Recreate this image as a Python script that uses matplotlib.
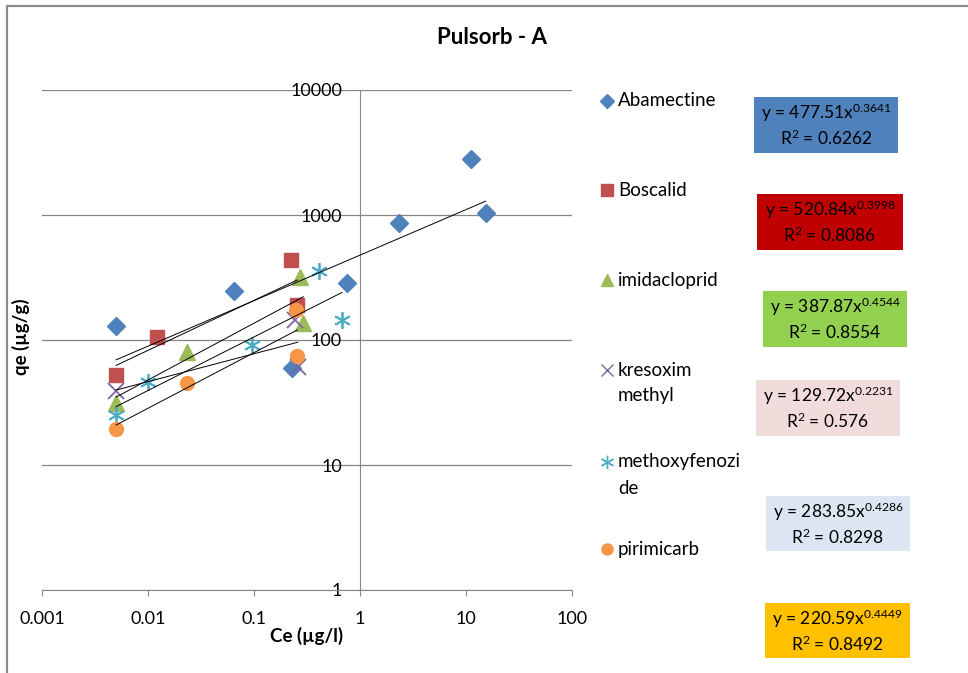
import matplotlib.pyplot as plt
import matplotlib.ticker as mtick
from matplotlib.patches import Rectangle
from matplotlib.lines import Line2D
import numpy as np

plt.rcParams['font.family'] = ['Lato', 'DejaVu Sans']
plt.rcParams['mathtext.fontset'] = 'custom'
plt.rcParams['mathtext.rm'] = 'Lato'
plt.rcParams['mathtext.default'] = 'regular'

# measured points, Ce (ug/l) vs qe (ug/g)
abamectine_x = [0.005, 0.065, 0.23, 0.75, 2.33, 11.1, 15.3]
abamectine_y = [129, 247, 60, 284, 859, 2806, 1043]
boscalid_x = [0.005, 0.0122, 0.225, 0.256]
boscalid_y = [52.5, 105, 437, 190]
imidacloprid_x = [0.005, 0.0232, 0.272, 0.292]
imidacloprid_y = [31.2, 80.7, 321, 138]
kresoxim_x = [0.005, 0.244, 0.258]
kresoxim_y = [39.3, 144.5, 61.2]
methoxy_x = [0.005, 0.01, 0.0964, 0.407, 0.676]
methoxy_y = [25.1, 46.4, 91.2, 359, 144.5]
pirimicarb_x = [0.005, 0.0235, 0.247, 0.256]
pirimicarb_y = [19.3, 45.0, 174, 75]

# power fits y = a * x^b
fit_a = [477.51, 520.84, 387.87, 129.72, 283.85, 220.59]
fit_b = [0.3641, 0.3998, 0.4544, 0.2231, 0.4286, 0.4449]
fit_r2 = ['0.6262', '0.8086', '0.8554', '0.576', '0.8298', '0.8492']

legend_labels = ['Abamectine', 'Boscalid', 'imidacloprid', 'kresoxim\nmethyl',
                 'methoxyfenozi\nde', 'pirimicarb']

series = [(abamectine_x, abamectine_y), (boscalid_x, boscalid_y),
          (imidacloprid_x, imidacloprid_y), (kresoxim_x, kresoxim_y),
          (methoxy_x, methoxy_y), (pirimicarb_x, pirimicarb_y)]

colors = ['#4F81BD', '#C0504D', '#9BBB59', '#8064A2', '#4BACC6', '#F79646']
markers = ['D', 's', '^', 'x', (6, 2, 0), 'o']
msizes = [9.5, 10, 11, 11, 12, 10]
box_colors = ['#4F81BD', '#C00000', '#92D050', '#F2DCDB', '#DCE6F2', '#FFC000']
# box corners in pixels (left, top, right, bottom)
box_px = [(754, 97, 898, 153), (757, 194, 903, 250), (763, 291, 907, 347),
          (756, 380, 900, 436), (766, 496, 910, 551), (765, 603, 910, 658)]

W, H = 968, 673
fig = plt.figure(figsize=(W / 100, H / 100), dpi=100)
ax = fig.add_axes([42 / W, 83 / H, 530 / W, 500 / H])

def fx(px):
    return px / W

def fy(py):
    return 1 - py / H

grey = '#868686'

for i, (x, y) in enumerate(series):
    filled = markers[i] not in ('x', (6, 2, 0))
    ax.plot(x, y, linestyle='none', marker=markers[i], markersize=msizes[i],
            color=colors[i], markeredgewidth=1.0 if filled else 1.3,
            zorder=3, clip_on=False)
    xs = np.logspace(np.log10(min(x)), np.log10(max(x)), 50)
    ax.plot(xs, fit_a[i] * xs ** fit_b[i], color='black', linewidth=0.7, zorder=4)

ax.set_xscale('log')
ax.set_yscale('log')
ax.set_xlim(0.001, 100)
ax.set_ylim(1, 10000)

ax.xaxis.set_major_locator(mtick.LogLocator(base=10, numticks=10))
ax.yaxis.set_major_locator(mtick.LogLocator(base=10, numticks=10))
ax.xaxis.set_minor_locator(mtick.NullLocator())
ax.yaxis.set_minor_locator(mtick.NullLocator())
fmt = mtick.FuncFormatter(lambda v, p: '%g' % v)
ax.xaxis.set_major_formatter(fmt)
ax.yaxis.set_major_formatter(fmt)

ax.spines['top'].set_visible(False)
ax.spines['right'].set_visible(False)
ax.spines['left'].set_position(('data', 1))
ax.spines['left'].set_color(grey)
ax.spines['bottom'].set_color(grey)
ax.spines['left'].set_zorder(1)

ax.tick_params(axis='x', direction='out', length=4.5, color=grey, labelsize=13, pad=10.5)
ax.tick_params(axis='y', length=0, labelsize=13, pad=13)
ax.grid(axis='y', color=grey, linewidth=0.9)
ax.set_axisbelow(True)

fig.text(fx(492), fy(37), 'Pulsorb - A', ha='center', va='center',
         fontsize=16, fontweight='bold')
fig.text(fx(307), fy(636), 'Ce (µg/l)', ha='center', va='center',
         fontsize=13.5, fontweight='bold')
fig.text(fx(21), fy(337), 'qe (µg/g)', ha='center', va='center',
         fontsize=13.5, fontweight='bold', rotation=90)

# legend entries
leg_y = [101, 190, 280, 370, 462, 549]
for i, lab in enumerate(legend_labels):
    fig.add_artist(Line2D([fx(607)], [fy(leg_y[i])], transform=fig.transFigure,
                          linestyle='none', marker=markers[i],
                          markersize=msizes[i] * 0.8, color=colors[i],
                          markeredgewidth=1.0))
    for j, part in enumerate(lab.split('\n')):
        fig.text(fx(618), fy(leg_y[i] + 26 * j), part, ha='left', va='center',
                 fontsize=13.5)

# trendline equation boxes
for i in range(6):
    l, t, r, b = box_px[i]
    fig.add_artist(Rectangle((fx(l), fy(b)), (r - l) / W, (b - t) / H,
                             transform=fig.transFigure, facecolor=box_colors[i],
                             edgecolor='none'))
    cx = (l + r) / 2
    fig.text(fx(cx), fy(t + 16), 'y = %.2fx$^{%s}$' % (fit_a[i], '%.4f' % fit_b[i]),
             ha='center', va='center', fontsize=12.5)
    fig.text(fx(cx), fy(t + 41), 'R$^{2}$ = %s' % fit_r2[i], ha='center', va='center',
             fontsize=12.5)

# chart area border
fig.add_artist(Rectangle((fx(7), -0.1), 1.2, fy(6) + 0.1, transform=fig.transFigure,
                         facecolor='none', edgecolor='#8C8C8C', linewidth=1.6))

plt.savefig('out.png', dpi=100)
